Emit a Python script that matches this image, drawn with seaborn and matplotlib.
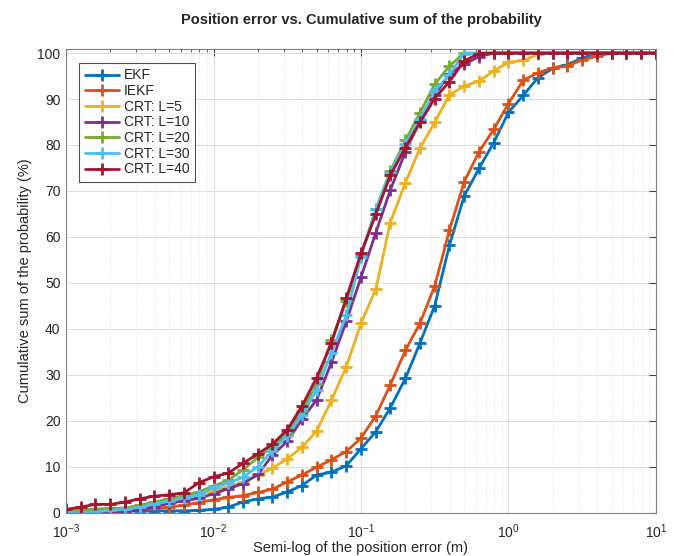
import numpy as np
import pandas as pd
import seaborn as sns
import matplotlib
matplotlib.use("Agg")
import matplotlib.pyplot as plt
from matplotlib.ticker import LogLocator, NullFormatter, MultipleLocator

# Position error grid (m), 10 points per decade
x_err = [0.001, 0.00126, 0.00158, 0.002, 0.00251, 0.00316, 0.00398, 0.00501, 0.00631, 0.00794,
         0.01, 0.0126, 0.0158, 0.02, 0.0251, 0.0316, 0.0398, 0.0501, 0.0631, 0.0794,
         0.1, 0.126, 0.158, 0.2, 0.251, 0.316, 0.398, 0.501, 0.631, 0.794,
         1.0, 1.26, 1.58, 2.0, 2.51, 3.16, 3.98, 5.01, 6.31, 7.94, 10.0]

# Cumulative probability (%) per method
ekf = [0, 0, 0, 0.2, 0.4, 0.4, 0.4, 0.4, 0.4, 0.5, 0.7,
       1.2, 2.3, 3.0, 3.4, 4.5, 5.9, 8.2, 8.8, 10.2, 13.9,
       17.6, 22.8, 29.2, 36.9, 45.0, 58.2, 68.9, 74.9, 80.5, 87.1,
       90.8, 94.6, 96.7, 97.5, 98.9, 100, 100, 100, 100, 100]
iekf = [0, 0, 0.1, 0.2, 0.3, 0.5, 0.9, 1.2, 1.6, 2.2, 2.8,
        3.3, 3.7, 4.4, 5.1, 6.7, 8.2, 9.9, 11.5, 13.3, 16.2,
        21.1, 27.8, 35.3, 41.2, 49.3, 61.5, 72.0, 78.5, 83.4, 89.0,
        94.1, 95.7, 96.8, 97.2, 98.5, 99.3, 100, 100, 100, 100]
crt5 = [0.2, 0.4, 0.6, 0.8, 1.0, 1.5, 2.2, 2.9, 3.5, 4.0, 4.8,
        5.6, 6.6, 8.2, 9.7, 11.7, 14.2, 17.8, 24.5, 31.7, 41.2,
        48.6, 63.1, 71.8, 79.3, 84.9, 90.9, 92.8, 93.9, 96.1, 98.0,
        98.4, 99.7, 100, 100, 100, 100, 100, 100, 100, 100]
crt10 = [0, 0, 0.1, 0.2, 0.3, 0.5, 1.3, 2.0, 2.6, 3.1, 4.1,
         5.2, 6.3, 8.3, 12.5, 15.5, 20.3, 24.6, 32.7, 41.6, 51.2,
         60.9, 70.2, 78.5, 85.3, 90.8, 95.5, 97.6, 99.2, 100, 100,
         100, 100, 100, 100, 100, 100, 100, 100, 100, 100]
crt20 = [0.3, 0.5, 0.8, 0.9, 1.0, 1.6, 2.3, 3.0, 3.7, 4.5, 5.8,
         7.0, 9.3, 12.0, 14.3, 17.3, 22.2, 28.0, 37.5, 46.0, 56.0,
         66.0, 74.3, 81.0, 87.0, 93.2, 97.2, 100, 100, 100, 100,
         100, 100, 100, 100, 100, 100, 100, 100, 100, 100]
crt30 = [0, 0, 0.2, 0.5, 0.7, 1.2, 1.9, 2.5, 3.2, 3.9, 5.5,
         6.4, 7.7, 10.0, 13.4, 16.7, 21.2, 26.7, 34.8, 42.9, 55.7,
         66.0, 74.0, 80.2, 85.6, 91.7, 95.3, 99.9, 100, 100, 100,
         100, 100, 100, 100, 100, 100, 100, 100, 100, 100]
crt40 = [0.7, 1.2, 1.8, 1.8, 2.3, 3.0, 3.6, 3.9, 4.3, 6.5, 7.8,
         8.6, 10.7, 12.8, 14.9, 18.0, 23.2, 29.4, 37.0, 46.6, 56.4,
         64.9, 73.4, 79.4, 84.9, 90.1, 93.8, 98.3, 99.9, 100, 100,
         100, 100, 100, 100, 100, 100, 100, 100, 100, 100]

labels = ['EKF', 'IEKF', 'CRT: L=5', 'CRT: L=10', 'CRT: L=20', 'CRT: L=30', 'CRT: L=40']
series = [ekf, iekf, crt5, crt10, crt20, crt30, crt40]
# MATLAB default color order
colors = ['#0072BD', '#D95319', '#EDB120', '#7E2F8E', '#77AC30', '#4DBEEE', '#A2142F']

sns.set_style("white")
plt.rcParams['font.family'] = ['Liberation Sans', 'DejaVu Sans']

fig = plt.figure(figsize=(6.75, 5.56), dpi=100)
ax = fig.add_axes([0.0978, 0.078, 0.874, 0.834])

for name, vals, c in zip(labels, series, colors):
    sns.lineplot(x=x_err, y=vals, ax=ax, color=c, label=name, linewidth=2,
                 marker='+', markersize=8, markeredgewidth=2, markeredgecolor=c)

ax.set_xscale('log')
ax.set_xlim(1e-3, 10)
ax.set_ylim(0, 100.9)
ax.yaxis.set_major_locator(MultipleLocator(10))
ax.xaxis.set_major_locator(LogLocator(base=10))
ax.xaxis.set_minor_locator(LogLocator(base=10, subs=np.arange(2, 10)))
ax.xaxis.set_minor_formatter(NullFormatter())

ax.grid(True, which='major', color='#dcdcdc', linewidth=0.7)
ax.grid(True, which='minor', axis='x', color='#dcdcdc', linewidth=0.6, linestyle=':')
ax.set_axisbelow(True)

ax.tick_params(which='both', direction='in', top=True, right=True, colors='#404040',
               labelsize=10, labelcolor='#262626')
ax.tick_params(which='major', length=5)
ax.tick_params(which='minor', length=2.5)
ax.tick_params(axis='x', which='major', pad=7)
ax.tick_params(axis='y', which='major', pad=4)
for s in ax.spines.values():
    s.set_color('#808080')
    s.set_linewidth(0.8)

ax.set_title('Position error vs. Cumulative sum of the probability',
             fontsize=10.5, fontweight='bold', pad=18)
ax.set_xlabel('Semi-log of the position error (m)', fontsize=10.5, color='#262626', labelpad=0)
ax.set_ylabel('Cumulative sum of the probability (%)', fontsize=10.5, color='#262626', labelpad=4)

leg = ax.legend(loc='upper left', bbox_to_anchor=(0.022, 0.97), borderaxespad=0,
                fontsize=10, frameon=True, fancybox=False, handlelength=2.5,
                labelspacing=0.12, borderpad=0.4, handletextpad=0.35)
leg.get_frame().set_edgecolor('#262626')
leg.get_frame().set_linewidth(0.8)

fig.savefig('out.png', dpi=100)
